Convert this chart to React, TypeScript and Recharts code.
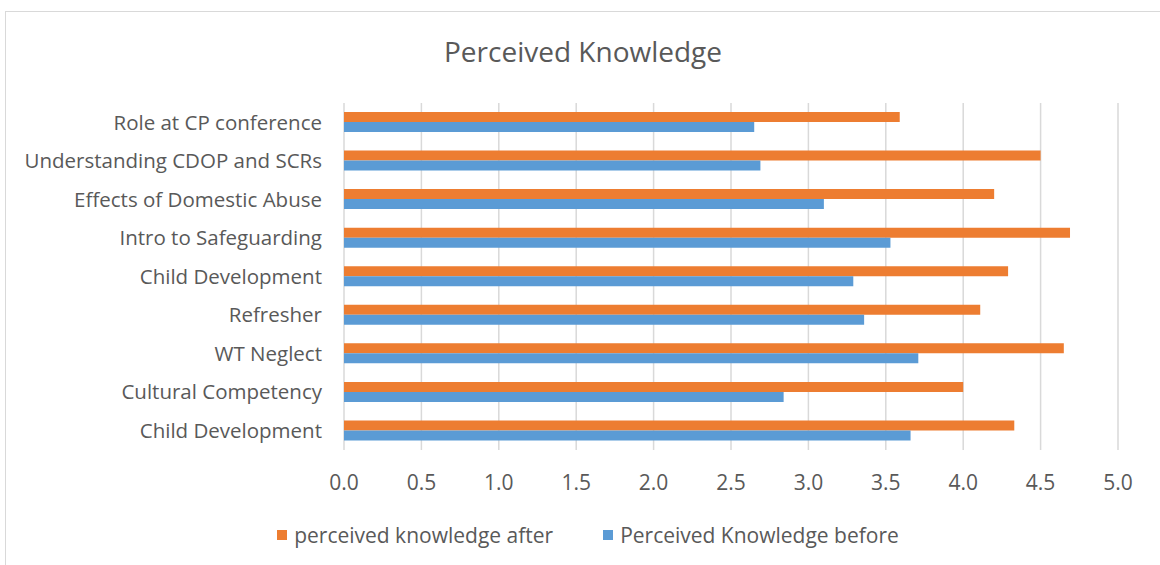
import { BarChart, Bar, XAxis, YAxis, CartesianGrid } from 'recharts'

const topics = [
  'Role at CP conference',
  'Understanding CDOP and SCRs',
  'Effects of Domestic Abuse',
  'Intro to Safeguarding',
  'Child Development',
  'Refresher',
  'WT Neglect',
  'Cultural Competency',
  'Child Development',
]
const knowledgeAfter = [3.59, 4.5, 4.2, 4.69, 4.29, 4.11, 4.65, 4.0, 4.33]
const knowledgeBefore = [2.65, 2.69, 3.1, 3.53, 3.29, 3.36, 3.71, 2.84, 3.66]
const xTicks = [0, 0.5, 1, 1.5, 2, 2.5, 3, 3.5, 4, 4.5, 5]

const seriesAfter = { key: 'after', name: 'perceived knowledge after', color: '#ED7D31' }
const seriesBefore = { key: 'before', name: 'Perceived Knowledge before', color: '#5B9BD5' }

const data = topics.map((topic, i) => ({
  topic,
  after: knowledgeAfter[i],
  before: knowledgeBefore[i],
}))

const FONT = '"Open Sans", sans-serif'
const TEXT = '#595959'

export default function App() {
  return (
    <div style={{ position: 'absolute', left: 0, top: 0, width: 1160, height: 565, background: '#fff', overflow: 'hidden' }}>
      <div style={{ position: 'absolute', left: 5, top: 11, width: 1200, height: 600, border: '1px solid #d9d9d9' }} />
      <div
        style={{
          position: 'absolute', left: 0, top: 32, width: 1166, textAlign: 'center',
          fontFamily: FONT, fontSize: 28, color: TEXT,
        }}
      >
        Perceived Knowledge
      </div>
      <BarChart
        width={1160}
        height={565}
        data={data}
        layout="vertical"
        margin={{ top: 103, right: 42, left: 0, bottom: 85 }}
        barGap={0}
        barSize={10}
        style={{ position: 'absolute', left: 0, top: 0 }}
      >
        <CartesianGrid horizontal={false} stroke="#d9d9d9" strokeWidth={1.5} />
        <XAxis
          type="number"
          domain={[0, 5]}
          ticks={xTicks}
          tickFormatter={(v: number) => v.toFixed(1)}
          axisLine={false}
          tickLine={false}
          tickSize={0}
          tickMargin={25}
          height={30}
          tick={{ fontSize: 21, fill: TEXT, fontFamily: FONT }}
        />
        <YAxis
          type="category"
          dataKey="topic"
          width={344}
          axisLine={false}
          tickLine={false}
          tickSize={0}
          tickMargin={22}
          interval={0}
          tick={{ fontSize: 20.5, fill: TEXT, fontFamily: FONT }}
        />
        <Bar dataKey={seriesAfter.key} name={seriesAfter.name} fill={seriesAfter.color} isAnimationActive={false} />
        <Bar dataKey={seriesBefore.key} name={seriesBefore.name} fill={seriesBefore.color} isAnimationActive={false} />
      </BarChart>
      <div
        style={{
          position: 'absolute', left: 0, top: 521, width: 1176, display: 'flex', justifyContent: 'center',
          gap: 50, fontFamily: FONT, fontSize: 21, color: TEXT,
        }}
      >
        {[seriesAfter, seriesBefore].map((s) => (
          <div key={s.key} style={{ display: 'flex', alignItems: 'center', gap: 7 }}>
            <span style={{ width: 10, height: 10, background: s.color, display: 'inline-block' }} />
            <span>{s.name}</span>
          </div>
        ))}
      </div>
    </div>
  )
}
